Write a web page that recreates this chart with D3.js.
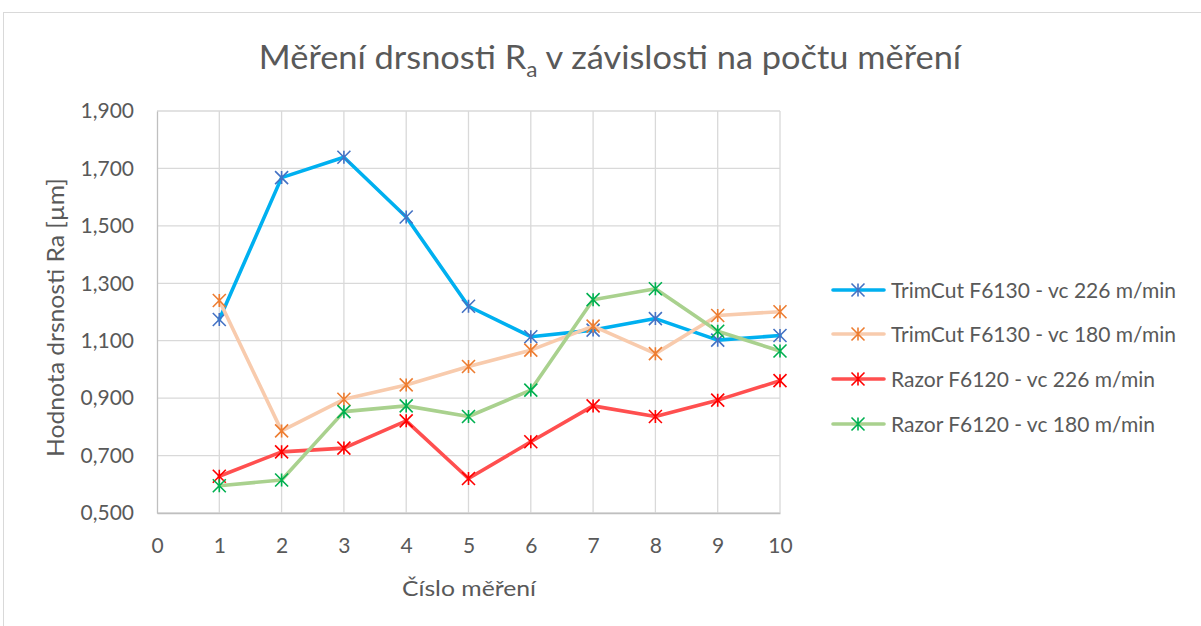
<!DOCTYPE html>
<html><head><meta charset="utf-8">
<script src="https://cdn.jsdelivr.net/npm/d3@7"></script>
<style>
html,body{margin:0;padding:0;background:#fff;}
text{font-family:Lato,"Open Sans",sans-serif;fill:#595959;}
</style></head>
<body><svg id="chart" width="1201" height="626"></svg>
<script>
const measurements = [1,2,3,4,5,6,7,8,9,10];
const xTicks = [0,1,2,3,4,5,6,7,8,9,10];
const yTicks = [0.5,0.7,0.9,1.1,1.3,1.5,1.7,1.9];
const seriesNames = ["TrimCut F6130 - vc 226 m/min","TrimCut F6130 - vc 180 m/min","Razor F6120 - vc 226 m/min","Razor F6120 - vc 180 m/min"];
const trimCut226 = [1.174,1.668,1.739,1.531,1.220,1.114,1.137,1.177,1.102,1.118];
const trimCut180 = [1.240,0.786,0.896,0.946,1.010,1.067,1.151,1.055,1.188,1.201];
const razor226 = [0.628,0.713,0.726,0.821,0.620,0.748,0.873,0.836,0.893,0.961];
const razor180 = [0.595,0.615,0.853,0.873,0.836,0.928,1.243,1.281,1.133,1.064];
const lineColors = ["#00B0F0","#F8CBAD","#FF4F4F","#A9D18E"];
const markerColors = ["#4472C4","#ED7D31","#FF0000","#00B050"];

const allSeries = [trimCut226,trimCut180,razor226,razor180];
const svg = d3.select("#chart");

// chart border
svg.append("rect").attr("x",3.5).attr("y",12.5).attr("width",1210).attr("height",640)
  .attr("fill","none").attr("stroke","#d9d9d9").attr("stroke-width",1);

const x = d3.scaleLinear().domain([0,10]).range([157,780]);
const y = d3.scaleLinear().domain([0.5,1.9]).range([513,111]);

// gridlines
svg.append("g").selectAll("line.h").data(yTicks).join("line")
  .attr("x1",157).attr("x2",780).attr("y1",d=>y(d)).attr("y2",d=>y(d))
  .attr("stroke","#d9d9d9").attr("stroke-width",1.3);
svg.append("g").selectAll("line.v").data(xTicks.slice(1)).join("line")
  .attr("x1",d=>x(d)).attr("x2",d=>x(d)).attr("y1",111).attr("y2",513)
  .attr("stroke","#d9d9d9").attr("stroke-width",1.3);

// axes
const yAxis = d3.axisLeft(y).tickValues(yTicks).tickSize(0).tickPadding(23)
  .tickFormat(d=>d3.format(".3f")(d).replace(".",","));
const gy = svg.append("g").attr("transform","translate(157,0)").call(yAxis);
gy.select(".domain").attr("stroke","#bfbfbf").attr("stroke-width",1.3);
gy.selectAll("text").style("font-size","21px").attr("fill","#595959");

const xAxis = d3.axisBottom(x).tickValues(xTicks).tickSize(0).tickPadding(25).tickFormat(d3.format("d"));
const gx = svg.append("g").attr("transform","translate(0,513)").call(xAxis);
gx.select(".domain").attr("stroke","#bfbfbf").attr("stroke-width",1.3);
gx.selectAll("text").style("font-size","21px").attr("fill","#595959");

// fit a text element horizontally to a target width around its centre
function fitWidth(sel, target){
  const w = sel.node().getBBox().width;
  const cx = +sel.attr("x"), cy = +sel.attr("y");
  const s = target / w;
  sel.attr("transform",`translate(${cx},${cy}) scale(${s},1) translate(${-cx},${-cy})`);
}

// titles
const title = svg.append("text").attr("x",610).attr("y",69).attr("text-anchor","middle")
  .style("font-size","32px");
title.append("tspan").text("Měření drsnosti R");
title.append("tspan").text("a").attr("dy",8).style("font-size","21px");
title.append("tspan").text(" v závislosti na počtu měření").attr("dy",-8);
fitWidth(title, 704);

const xt = svg.append("text").attr("x",469).attr("y",596).attr("text-anchor","middle")
  .style("font-size","22px").text("Číslo měření");
fitWidth(xt, 135);

const yt = svg.append("text").attr("x",0).attr("y",0).attr("text-anchor","middle")
  .style("font-size","23px").text("Hodnota drsnosti Ra [µm]");
const ytw = yt.node().getBBox().width;
yt.attr("transform",`translate(64,317.5) rotate(-90) scale(${279/ytw},1)`);

// star marker
function star(g, cx, cy, color){
  const r = 6.5;
  const p = d3.path();
  p.moveTo(cx-r,cy-r); p.lineTo(cx+r,cy+r);
  p.moveTo(cx-r,cy+r); p.lineTo(cx+r,cy-r);
  p.moveTo(cx,cy-r); p.lineTo(cx,cy+r);
  g.append("path").attr("d",p.toString()).attr("stroke",color).attr("stroke-width",1.6).attr("fill","none");
}

const line = d3.line().x((d,i)=>x(measurements[i])).y(d=>y(d));
allSeries.forEach((s,k)=>{
  const g = svg.append("g");
  g.append("path").datum(s).attr("d",line).attr("fill","none")
    .attr("stroke",lineColors[k]).attr("stroke-width",3.6).attr("stroke-linejoin","round").attr("stroke-linecap","round");
  s.forEach((v,i)=>star(g, x(measurements[i]), y(v), markerColors[k]));
});

// legend
const legY = [290,334,379,424];
seriesNames.forEach((n,k)=>{
  const g = svg.append("g");
  g.append("line").attr("x1",833).attr("x2",884).attr("y1",legY[k]).attr("y2",legY[k])
    .attr("stroke",lineColors[k]).attr("stroke-width",3.6).attr("stroke-linecap","round");
  star(g, 858, legY[k], markerColors[k]);
  g.append("text").attr("x",891).attr("y",legY[k]+7.5).style("font-size","21px").text(n);
});
</script></body></html>
